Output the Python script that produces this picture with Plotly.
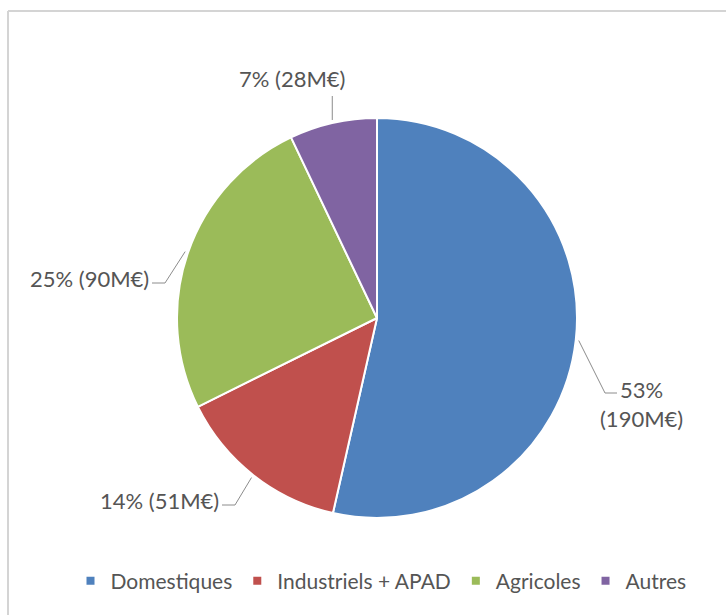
import math
import plotly.graph_objects as go

# ---- data ----
categories = ["Domestiques", "Industriels + APAD", "Agricoles", "Autres"]
shares_pct = [53, 14, 25, 7]
amounts_meur = [190, 51, 90, 28]

# ---- style / layout constants ----
W, H = 726, 615
colors = ["#4F81BD", "#C0504D", "#9BBB59", "#8064A2"]
FONT = "Lato"
TXT = "#555555"
CX, CY, R = 377, 318, 200  # pie centre / radius in px


def px(x):
    return x / W


def py(y):
    return 1 - y / H


fig = go.Figure()
fig.add_trace(go.Pie(
    labels=categories, values=shares_pct, sort=False, direction="clockwise",
    rotation=0, textinfo="none", hoverinfo="label+percent",
    marker=dict(colors=colors, line=dict(color="white", width=2)),
    domain=dict(x=[px(CX - R), px(CX + R)], y=[py(CY + R), py(CY - R)]),
    showlegend=False,
))

# legend entries (small square swatches)
for name, c in zip(categories, colors):
    fig.add_trace(go.Scatter(x=[None], y=[None], mode="markers", name=name,
                             marker=dict(symbol="square", size=8, color=c)))

# label text built from data
label_texts = [f"{p}%<br>({a}M€)" if i == 0 else f"{p}% ({a}M€)"
               for i, (p, a) in enumerate(zip(shares_pct, amounts_meur))]

# label placement (style): elbow point, end point, text anchor
placement = [
    dict(elbow=(605, 393), end=(617, 393), text=(641, 404), xanchor="center"),
    dict(elbow=(235, 505), end=(222, 505), text=(221, 500), xanchor="right"),
    dict(elbow=(165, 283), end=(152, 283), text=(151, 278), xanchor="right"),
    dict(elbow=None, end=(None, 96), text=(292, 78), xanchor="center"),
]

total = sum(shares_pct)
cum = 0
shapes = []
annotations = []
for i, v in enumerate(shares_pct):
    mid = (cum + v / 2) / total * 2 * math.pi
    cum += v
    sx = CX + (R + 3) * math.sin(mid)
    sy = CY - (R + 3) * math.cos(mid)
    pl = placement[i]
    pts = [(sx, sy)]
    if pl["elbow"] is not None:
        pts.append(pl["elbow"])
        pts.append(pl["end"])
    else:
        pts.append((sx, pl["end"][1]))
    path = "M " + " L ".join(f"{px(x)},{py(y)}" for x, y in pts)
    shapes.append(dict(type="path", path=path, xref="paper", yref="paper",
                       line=dict(color="#8c8c8c", width=1)))
    tx, ty = pl["text"]
    annotations.append(dict(x=px(tx), y=py(ty), xref="paper", yref="paper",
                            text=label_texts[i], showarrow=False,
                            xanchor=pl["xanchor"], yanchor="middle",
                            align="center",
                            font=dict(family=FONT, size=22, color=TXT)))

# chart frame (top + left edges visible)
shapes.append(dict(type="line", xref="paper", yref="paper", x0=px(8), x1=1.01,
                   y0=py(11), y1=py(11), line=dict(color="#d4d4d4", width=2)))
shapes.append(dict(type="line", xref="paper", yref="paper", x0=px(8), x1=px(8),
                   y0=py(11), y1=-0.01, line=dict(color="#d4d4d4", width=2)))

fig.update_layout(
    width=W, height=H, margin=dict(l=0, r=0, t=0, b=0),
    paper_bgcolor="white", plot_bgcolor="white",
    xaxis=dict(visible=False), yaxis=dict(visible=False),
    shapes=shapes, annotations=annotations,
    legend=dict(orientation="h", x=px(381), xanchor="center",
                y=py(581), yanchor="middle",
                font=dict(family=FONT, size=21, color=TXT),
                itemwidth=30, tracegroupgap=0),
    font=dict(family=FONT, color=TXT),
)

fig.write_html("out.html")
